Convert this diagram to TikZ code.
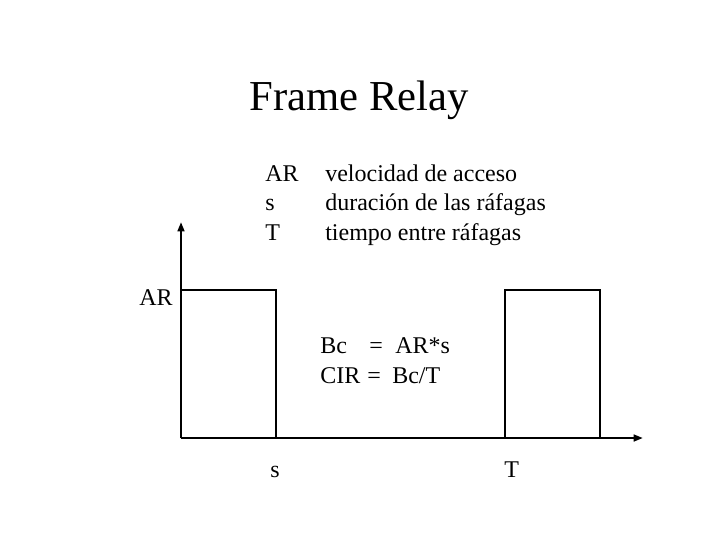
\documentclass[tikz,border=0pt]{standalone}
\usepackage{fontspec}
\setmainfont{Liberation Serif}
\usetikzlibrary{arrows.meta}
\begin{document}
\begin{tikzpicture}[x=0.75pt,y=-0.75pt,
  txt/.style={anchor=base west,inner sep=0pt,font=\fontsize{18}{21}\selectfont},
  ttl/.style={anchor=base,inner sep=0pt,font=\fontsize{32}{38}\selectfont},
  ln/.style={line width=1.9pt},
  axis/.style={ln,-{Triangle[length=7pt,width=5pt]}}]
\useasboundingbox (0,0) rectangle (720,540);
\node[ttl] (title) at (359,110) {Frame Relay};
% legend
\node[txt] (l1) at (265,181) {AR};
\node[txt] (l2) at (265,210) {s};
\node[txt] (l3) at (265,240) {T};
\node[txt] (d1) at (325,181) {velocidad de acceso};
\node[txt] (d2) at (325,210) {duración de las ráfagas};
\node[txt] (d3) at (325,240) {tiempo entre ráfagas};
% axes
\coordinate (o) at (181,438);
\coordinate (ytip) at (181,222);
\coordinate (xtip) at (643,438);
\draw[axis] (o) -- (ytip);
\draw[axis] (o) -- (xtip);
% pulses
\draw[ln,line join=miter] (181,290) -- (276,290) -- (276,438);
\draw[ln,line join=miter] (505,438) -- (505,290) -- (600,290) -- (600,438);
% labels
\node[txt] (ar) at (139,305) {AR};
\node[txt] (s) at (270,477) {s};
\node[txt] (t) at (504,477) {T};
% formulas
\node[txt] (bc) at (320,353) {Bc};
\node[txt] (eq1) at (369,353) {=};
\node[txt] (f1) at (395,353) {AR*s};
\node[txt] (cir) at (320,383) {CIR};
\node[txt] (eq2) at (367,383) {=};
\node[txt] (f2) at (392,383) {Bc/T};
\end{tikzpicture}
\end{document}
